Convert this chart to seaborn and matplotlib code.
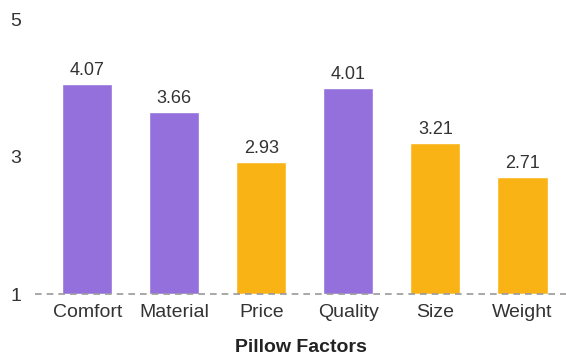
import matplotlib
matplotlib.use("Agg")
import matplotlib.pyplot as plt
import seaborn as sns
import pandas as pd

categories = ["Comfort", "Material", "Price", "Quality", "Size", "Weight"]
values = [4.07, 3.66, 2.93, 4.01, 3.21, 2.71]
groups = ["A", "A", "B", "A", "B", "B"]
yticks = [1, 3, 5]

sns.set_theme(style="white")
plt.rcParams['font.family'] = ['Liberation Sans', 'DejaVu Sans']

df = pd.DataFrame({"factor": categories, "score": values, "group": groups})
palette = {"A": "#9370DB", "B": "#FAB314"}

fig = plt.figure(figsize=(5.66, 3.56), dpi=100)
ax = fig.add_axes([0.062, 0.174, 0.938, 0.77])
sns.barplot(data=df, x="factor", y="score", hue="group", palette=palette,
            dodge=False, width=0.575, legend=False, ax=ax, saturation=1)
# bars start from baseline 1
for patch in ax.patches:
    h = patch.get_height()
    patch.set_y(1)
    patch.set_height(h - 1)

for i, v in enumerate(values):
    ax.text(i, v + 0.07, f"{v:.2f}", ha="center", va="bottom", fontsize=13, color="#333333")

ax.set_ylim(1, 5)
ax.set_xlim(-0.6, 5.5)
ax.set_yticks(yticks)
ax.set_yticklabels([str(t) for t in yticks])
ax.axhline(1, color="#999999", linestyle=(0, (4, 3)), linewidth=1.2, zorder=5, clip_on=False)
for s in ax.spines.values():
    s.set_visible(False)
ax.tick_params(axis="both", length=0, labelsize=14, colors="#333333")
ax.tick_params(axis="y", pad=10)
ax.tick_params(axis="x", pad=7)
ax.set_xlabel("Pillow Factors", fontsize=14, fontweight="bold", color="#222222", labelpad=13)
ax.set_ylabel("")
fig.savefig("out.png", dpi=100)
